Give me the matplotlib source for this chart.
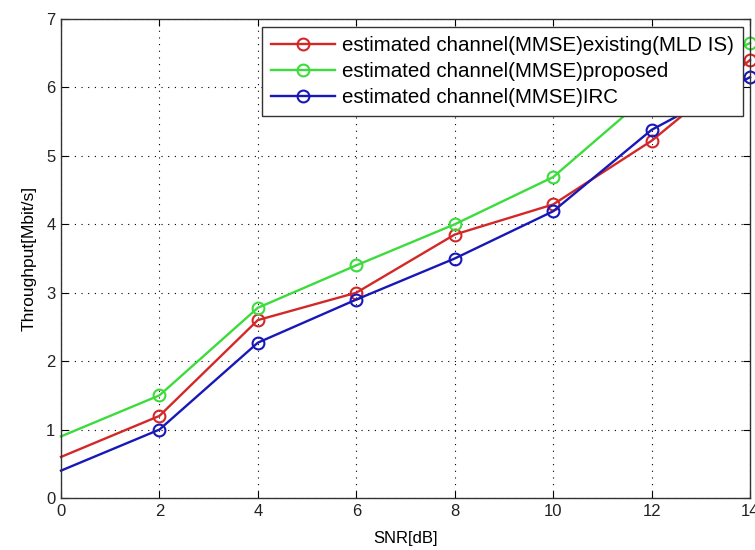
import matplotlib
matplotlib.use("Agg")
import matplotlib.pyplot as plt

plt.rcParams['font.family'] = ['Liberation Sans', 'DejaVu Sans']

snr = [0, 2, 4, 6, 8, 10, 12, 14]
existing = [0.6, 1.2, 2.6, 3.0, 3.85, 4.29, 5.22, 6.40]
proposed = [0.9, 1.5, 2.78, 3.4, 4.0, 4.69, 5.93, 6.65]
irc = [0.4, 1.0, 2.27, 2.9, 3.5, 4.19, 5.38, 6.15]
labels = ["estimated channel(MMSE)existing(MLD IS)",
          "estimated channel(MMSE)proposed",
          "estimated channel(MMSE)IRC"]
colors = ["#d42828", "#3cdc3c", "#1818b8"]

fig = plt.figure(figsize=(7.55, 5.5), dpi=100)
ax = fig.add_axes([61/755, 1 - 498/550, (750-61)/755, (498-19)/550])

for y, lab, c in zip([existing, proposed, irc], labels, colors):
    ax.plot(snr, y, color=c, lw=1.7, marker='o', markersize=8.5,
            markerfacecolor='none', markeredgecolor=c, markeredgewidth=1.5,
            markevery=list(range(1, len(snr))), label=lab, clip_on=False)

ax.set_xlim(0, 14)
ax.set_ylim(0, 7)
ax.set_xticks(range(0, 15, 2))
ax.set_yticks(range(0, 8))
ax.grid(True, color='black', linestyle=(0, (1, 5)), linewidth=0.8)
ax.tick_params(direction='in', length=5, labelsize=12, top=True, right=True,
               labelcolor='#222222', pad=4)
for s in ax.spines.values():
    s.set_color('#333333')
    s.set_linewidth(1)
ax.set_xlabel("SNR[dB]", fontsize=12, labelpad=9)
ax.set_ylabel("Throughput[Mbit/s]", fontsize=12.5, labelpad=7)

leg = ax.legend(loc='upper right', bbox_to_anchor=(0.9898, 0.983), fontsize=14.8,
                numpoints=1, handlelength=3.1, fancybox=False, framealpha=1,
                edgecolor='#333333', borderpad=0.45, labelspacing=0.33,
                handletextpad=0.35, borderaxespad=0)
leg.get_frame().set_linewidth(1)

fig.savefig("out.png", dpi=100)
